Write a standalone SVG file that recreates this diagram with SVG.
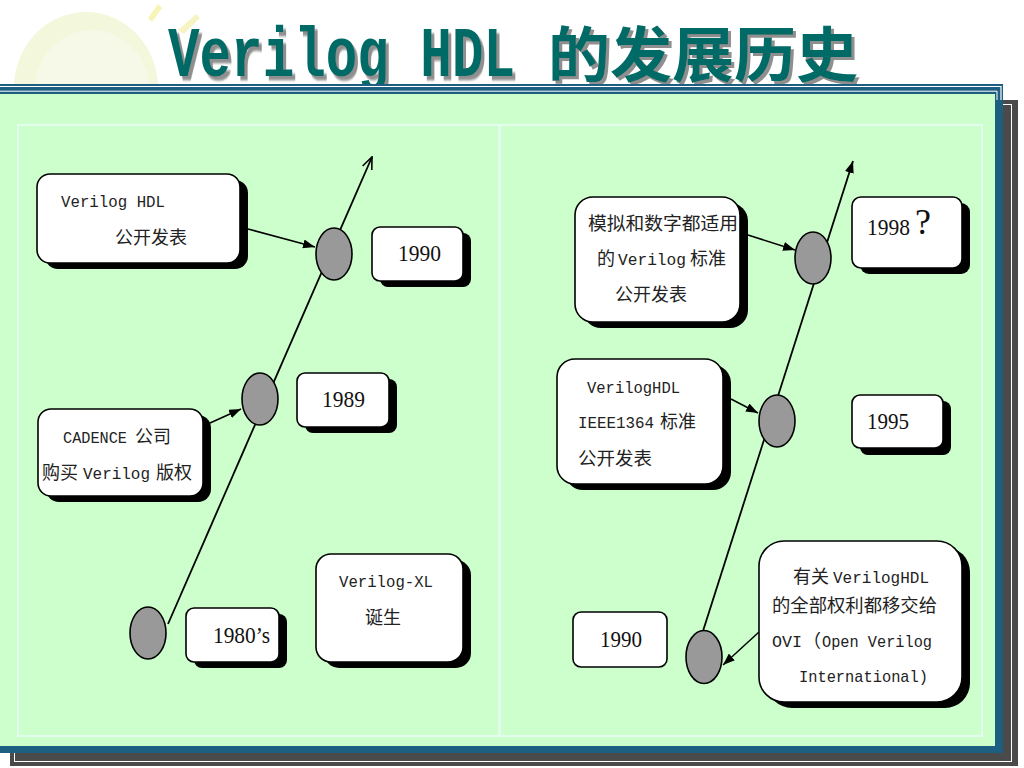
<svg xmlns="http://www.w3.org/2000/svg" width="1024" height="768" viewBox="0 0 1024 768">
<style>
.t{font-family:"Noto Sans CJK SC","Noto Sans CJK TC",sans-serif;font-size:18px;fill:#222}
.mo{font-family:"Liberation Mono","DejaVu Sans Mono",monospace;font-size:17px}
.nu{font-family:"Liberation Serif","DejaVu Serif",serif;font-size:24px;fill:#111}
.q{font-family:"Liberation Serif","DejaVu Serif",serif;font-size:36px}
.box{fill:#fff;stroke:#000;stroke-width:1.6}
.sh{fill:#000}
.dot{fill:#999;stroke:#000;stroke-width:1.6}
.ln{stroke:#000;stroke-width:1.8;fill:none}
.ar{stroke:#000;stroke-width:1.5;fill:none}
.inner{fill:none;stroke:#e2fdee;stroke-width:2}
.ttl{fill:#006b66;filter:url(#tsh)}
</style>
<defs>
<filter id="tsh" x="-5%" y="-20%" width="110%" height="140%">
<feDropShadow dx="3" dy="3" stdDeviation="0.6" flood-color="#8f8f8f" flood-opacity="1"/>
</filter>
<marker id="tri" viewBox="0 0 12 9" refX="12" refY="4.5" markerWidth="12" markerHeight="9" markerUnits="userSpaceOnUse" orient="auto">
<path d="M0,0 L12,4.5 L0,9 z" fill="#000"/>
</marker>
<marker id="open" viewBox="0 0 14 12" refX="13" refY="6" markerWidth="14" markerHeight="12" markerUnits="userSpaceOnUse" orient="auto">
<path d="M1,1 L13,6 L1,11" fill="none" stroke="#000" stroke-width="1.6"/>
</marker>
</defs>

<rect width="1024" height="768" fill="#fff"/>
<!-- decorative background -->
<ellipse cx="86" cy="88" rx="72" ry="76" fill="#f3f7dc"/>
<ellipse cx="92" cy="92" rx="58" ry="62" fill="#f7f9e8"/>
<polygon points="148,18 158,4 162,8 152,22" fill="#f7f4b8"/>
<polygon points="178,30 196,14 200,18 184,34" fill="#f7f4c4"/>

<!-- title -->
<g id="title">
<text class="ttl" transform="translate(168,76) scale(1,1.45)" x="0" y="0" font-family="Liberation Mono,monospace" font-weight="bold" font-size="48" textLength="347" lengthAdjust="spacingAndGlyphs">Verilog HDL</text>
<text class="ttl" x="548" y="77" font-family="Noto Sans CJK SC,sans-serif" font-weight="bold" font-size="60" textLength="310" lengthAdjust="spacingAndGlyphs">的发展历史</text>
</g>

<!-- frame -->
<rect x="10" y="100" width="1008" height="666" fill="#4a4a4a"/>
<rect x="14.5" y="104.5" width="997" height="657" fill="none" stroke="#fff" stroke-width="1"/>
<rect x="-10" y="84" width="1013" height="669" fill="#1d5f80"/>
<line x1="-10" y1="86.5" x2="1001" y2="86.5" stroke="#fff" stroke-width="1.2"/>
<line x1="-10" y1="91.2" x2="997" y2="91.2" stroke="#fff" stroke-width="1"/>
<line x1="1001" y1="86" x2="1001" y2="100" stroke="#fff" stroke-width="1.2"/>
<line x1="997" y1="91" x2="997" y2="100" stroke="#fff" stroke-width="1"/>
<rect x="-10" y="94" width="1005" height="652" fill="#ccffcc"/>
<rect class="inner" x="18" y="125" width="481" height="611"/>
<rect class="inner" x="500" y="125" width="482" height="611"/>

<!-- connectors -->
<g id="connectors">
<line class="ln" x1="168" y1="624" x2="372" y2="157" marker-end="url(#open)"/>
<line class="ar" x1="248" y1="229" x2="315" y2="247" marker-end="url(#tri)"/>
<line class="ar" x1="210" y1="423" x2="241" y2="409" marker-end="url(#tri)"/>
<line class="ln" x1="703" y1="631" x2="853" y2="161" marker-end="url(#tri)"/>
<line class="ar" x1="748" y1="235" x2="795" y2="250" marker-end="url(#tri)"/>
<line class="ar" x1="731" y1="399" x2="758" y2="413" marker-end="url(#tri)"/>
<line class="ar" x1="759" y1="632" x2="723" y2="665" marker-end="url(#tri)"/>
</g>

<!-- left timeline dots -->
<g id="dot-1990a"><ellipse class="dot" cx="334" cy="254" rx="18" ry="26"/></g>
<g id="dot-1989"><ellipse class="dot" cx="260" cy="399" rx="18" ry="26"/></g>
<g id="dot-1980s"><ellipse class="dot" cx="148" cy="633" rx="18" ry="26"/></g>

<!-- left nodes -->
<g id="n-publish1990">
<rect class="sh" x="45" y="180" width="203" height="89" rx="13"/>
<rect class="box" x="37" y="174" width="203" height="89" rx="13"/>
<text class="t" x="61" y="207"><tspan class="mo" textLength="104" lengthAdjust="spacingAndGlyphs">Verilog HDL</tspan></text>
<text class="t" x="115" y="244">公开发表</text>
</g>
<g id="y-1990a">
<rect class="sh" x="380" y="233" width="91" height="54" rx="8"/>
<rect class="box" x="372" y="227" width="91" height="54" rx="8"/>
<text class="nu" x="398" y="261" textLength="43" lengthAdjust="spacingAndGlyphs">1990</text>
</g>
<g id="y-1989">
<rect class="sh" x="305" y="379" width="92" height="54" rx="8"/>
<rect class="box" x="297" y="373" width="92" height="54" rx="8"/>
<text class="nu" x="322" y="407" textLength="43" lengthAdjust="spacingAndGlyphs">1989</text>
</g>
<g id="n-cadence">
<rect class="sh" x="46" y="415" width="165" height="87" rx="13"/>
<rect class="box" x="38" y="409" width="165" height="87" rx="13"/>
<text class="t" y="443"><tspan class="mo" x="63" textLength="64" lengthAdjust="spacingAndGlyphs">CADENCE</tspan><tspan x="135">公司</tspan></text>
<text class="t" y="479"><tspan x="42">购买</tspan><tspan class="mo" x="83" textLength="67" lengthAdjust="spacingAndGlyphs">Verilog</tspan><tspan x="156">版权</tspan></text>
</g>
<g id="y-1980s">
<rect class="sh" x="194" y="614" width="93" height="54" rx="8"/>
<rect class="box" x="186" y="608" width="93" height="54" rx="8"/>
<text class="nu" x="213" y="643" textLength="57" lengthAdjust="spacingAndGlyphs">1980’s</text>
</g>
<g id="n-verilogxl">
<rect class="sh" x="324" y="560" width="147" height="108" rx="15"/>
<rect class="box" x="316" y="554" width="147" height="108" rx="15"/>
<text class="t" x="339" y="587"><tspan class="mo" textLength="94" lengthAdjust="spacingAndGlyphs">Verilog-XL</tspan></text>
<text class="t" x="365" y="624">诞生</text>
</g>

<!-- right timeline dots -->
<g id="dot-1998"><ellipse class="dot" cx="813" cy="258" rx="18" ry="26"/></g>
<g id="dot-1995"><ellipse class="dot" cx="777" cy="421" rx="18" ry="26"/></g>
<g id="dot-1990b"><ellipse class="dot" cx="704" cy="657" rx="18" ry="26.5"/></g>

<!-- right nodes -->
<g id="n-analog">
<rect class="sh" x="583" y="203" width="165" height="125" rx="18"/>
<rect class="box" x="575" y="197" width="165" height="125" rx="18"/>
<text class="t" x="588" y="230" textLength="150" lengthAdjust="spacingAndGlyphs">模拟和数字都适用</text>
<text class="t" y="265"><tspan x="597">的</tspan><tspan class="mo" x="618" textLength="68" lengthAdjust="spacingAndGlyphs">Verilog</tspan><tspan x="690">标准</tspan></text>
<text class="t" x="615" y="301">公开发表</text>
</g>
<g id="y-1998">
<rect class="sh" x="860" y="203" width="110" height="71" rx="9"/>
<rect class="box" x="852" y="197" width="110" height="71" rx="9"/>
<text class="nu" y="235"><tspan x="867" textLength="43" lengthAdjust="spacingAndGlyphs">1998</tspan><tspan class="q" x="915" y="234">?</tspan></text>
</g>
<g id="n-ieee">
<rect class="sh" x="565" y="365" width="166" height="125" rx="18"/>
<rect class="box" x="557" y="359" width="166" height="125" rx="18"/>
<text class="t" x="587" y="393"><tspan class="mo" textLength="93" lengthAdjust="spacingAndGlyphs">VerilogHDL</tspan></text>
<text class="t" y="428"><tspan class="mo" x="578" textLength="76" lengthAdjust="spacingAndGlyphs">IEEE1364</tspan><tspan x="660">标准</tspan></text>
<text class="t" x="578" y="465" textLength="74" lengthAdjust="spacingAndGlyphs">公开发表</text>
</g>
<g id="y-1995">
<rect class="sh" x="860" y="401" width="91" height="54" rx="8"/>
<rect class="box" x="852" y="395" width="91" height="53" rx="8"/>
<text class="nu" x="867" y="429" textLength="42" lengthAdjust="spacingAndGlyphs">1995</text>
</g>
<g id="y-1990b">
<rect class="box" x="573" y="612" width="94" height="55" rx="8"/>
<text class="nu" x="600" y="647" textLength="42" lengthAdjust="spacingAndGlyphs">1990</text>
</g>
<g id="n-ovi">
<rect class="sh" x="767" y="547" width="203" height="161" rx="25"/>
<rect class="box" x="759" y="541" width="203" height="161" rx="25"/>
<text class="t" y="583"><tspan x="793">有关</tspan><tspan class="mo" x="833" textLength="96" lengthAdjust="spacingAndGlyphs">VerilogHDL</tspan></text>
<text class="t" x="772" y="612" textLength="165" lengthAdjust="spacingAndGlyphs">的全部权利都移交给</text>
<text class="t" y="647"><tspan class="mo" x="772" textLength="30" lengthAdjust="spacingAndGlyphs">OVI</tspan><tspan x="803">（</tspan><tspan class="mo" x="822" textLength="110" lengthAdjust="spacingAndGlyphs">Open Verilog</tspan></text>
<text class="t" x="799" y="682"><tspan class="mo" textLength="129" lengthAdjust="spacingAndGlyphs">International)</tspan></text>
</g>
</svg>
